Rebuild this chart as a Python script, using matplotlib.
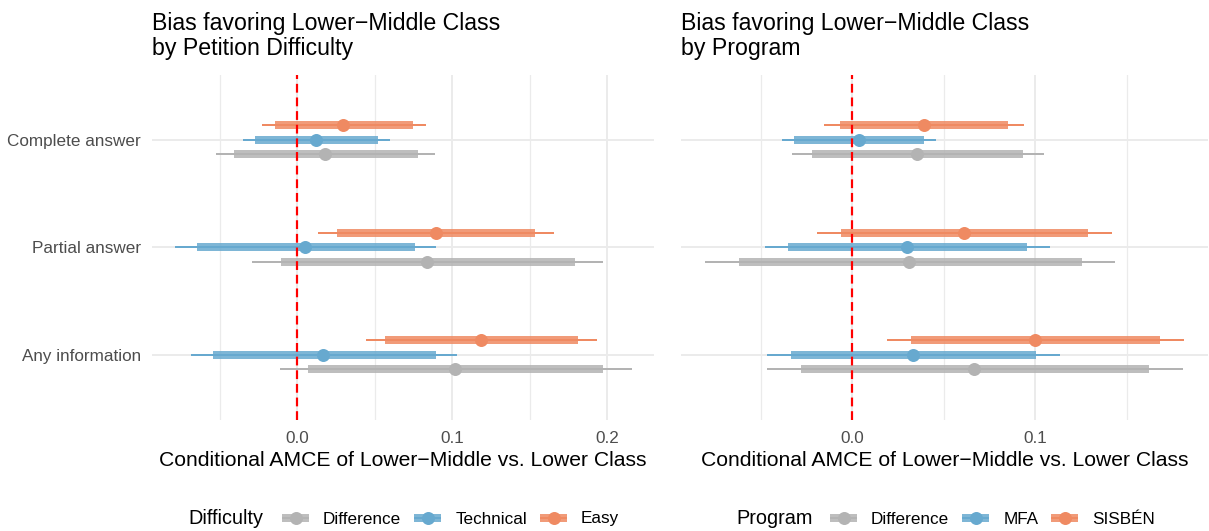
import matplotlib
matplotlib.use('Agg')
import matplotlib.pyplot as plt
from matplotlib.lines import Line2D
import numpy as np

plt.rcParams['font.family'] = ['Liberation Sans', 'DejaVu Sans']

W, H = 1209, 531
DPI = 100

rows = ['Complete answer', 'Partial answer', 'Any information']

# left panel: by petition difficulty
diff_groups = ['Difference', 'Technical', 'Easy']
diff_est = {
    'Easy': [0.0297, 0.0891, 0.1184],
    'Technical': [0.0120, 0.0049, 0.0167],
    'Difference': [0.0178, 0.0839, 0.1017],
}
diff_in_lo = {
    'Easy': [-0.0141, 0.0257, 0.0567],
    'Technical': [-0.0276, -0.0649, -0.0546],
    'Difference': [-0.0411, -0.0107, 0.0069],
}
diff_in_hi = {
    'Easy': [0.0743, 0.1533, 0.1813],
    'Technical': [0.0520, 0.0760, 0.0893],
    'Difference': [0.0775, 0.1790, 0.1970],
}
diff_out_lo = {
    'Easy': [-0.0227, 0.0131, 0.0443],
    'Technical': [-0.0353, -0.0790, -0.0687],
    'Difference': [-0.0525, -0.0291, -0.0114],
}
diff_out_hi = {
    'Easy': [0.0829, 0.1655, 0.1935],
    'Technical': [0.0597, 0.0897, 0.1032],
    'Difference': [0.0888, 0.1974, 0.2156],
}

# right panel: by program
prog_groups = ['Difference', 'MFA', 'SISBÉN']
prog_est = {
    'SISBÉN': [0.0390, 0.0610, 0.0998],
    'MFA': [0.0036, 0.0300, 0.0332],
    'Difference': [0.0354, 0.0312, 0.0666],
}
prog_in_lo = {
    'SISBÉN': [-0.0067, -0.0062, 0.0323],
    'MFA': [-0.0318, -0.0350, -0.0335],
    'Difference': [-0.0219, -0.0622, -0.0283],
}
prog_in_hi = {
    'SISBÉN': [0.0848, 0.1290, 0.1679],
    'MFA': [0.0390, 0.0955, 0.1004],
    'Difference': [0.0935, 0.1254, 0.1624],
}
prog_out_lo = {
    'SISBÉN': [-0.0154, -0.0194, 0.0191],
    'MFA': [-0.0386, -0.0477, -0.0466],
    'Difference': [-0.0330, -0.0806, -0.0468],
}
prog_out_hi = {
    'SISBÉN': [0.0936, 0.1421, 0.1813],
    'MFA': [0.0457, 0.1080, 0.1134],
    'Difference': [0.1047, 0.1436, 0.1809],
}

colors = ['#B3B3B3', '#67A9CF', '#EF8A62']
offsets = [-0.134, 0.0, 0.134]

GRID = '#EBEBEB'
TXT = '#4D4D4D'
PX = 72.0 / DPI  # points per pixel

fig = plt.figure(figsize=(W / DPI, H / DPI), dpi=DPI)


def px_axes(x0, x1, y0, y1):
    return fig.add_axes([x0 / W, 1 - y1 / H, (x1 - x0) / W, (y1 - y0) / H])


def draw_panel(ax, groups, est, in_lo, in_hi, out_lo, out_hi, major, minor, ylabels):
    ypos = np.arange(len(rows))[::-1]
    for g, col, off in zip(groups, colors, offsets):
        y = ypos + off
        ax.hlines(y, out_lo[g], out_hi[g], color=col, lw=2 * PX, zorder=3,
                  capstyle='butt')
        ax.hlines(y, in_lo[g], in_hi[g], color=col, lw=8 * PX, alpha=0.85, zorder=3,
                  capstyle='butt')
        ax.plot(est[g], y, 'o', color=col, ms=13 * PX, mew=0, zorder=4)
    ax.axvline(0, color='red', lw=2.2 * PX, ls=(0, (4, 2.2)), zorder=6)

    lo = min(min(v) for v in out_lo.values())
    hi = max(max(v) for v in out_hi.values())
    pad = (hi - lo) * 0.05
    ax.set_xlim(lo - pad, hi + pad)
    ax.set_ylim(-0.6, len(rows) - 0.4)

    ax.set_xticks(major)
    ax.set_xticklabels(['%.1f' % v for v in major])
    ax.set_xticks(minor, minor=True)
    ax.set_yticks(ypos)
    if ylabels:
        ax.set_yticklabels(rows)
    else:
        ax.set_yticklabels([])
    ax.grid(True, which='major', color=GRID, lw=2 * PX, zorder=0)
    ax.grid(True, which='minor', axis='x', color=GRID, lw=1.2 * PX, zorder=0)
    ax.set_axisbelow(True)
    ax.tick_params(which='both', length=0, labelsize=17.1 * PX, labelcolor=TXT, pad=8)
    for s in ax.spines.values():
        s.set_visible(False)


ax1 = px_axes(152, 654.5, 75, 419.5)
draw_panel(ax1, diff_groups, diff_est, diff_in_lo, diff_in_hi, diff_out_lo, diff_out_hi,
           [0.0, 0.1, 0.2], [-0.05, 0.05, 0.15], True)

ax2 = px_axes(681, 1208, 75, 419.5)
draw_panel(ax2, prog_groups, prog_est, prog_in_lo, prog_in_hi, prog_out_lo, prog_out_hi,
           [0.0, 0.1], [-0.05, 0.05, 0.15], False)

# titles
title_kw = dict(fontsize=23.1 * PX, ha='left', va='top', linespacing=1.09, color='black')
fig.text(152 / W, 1 - 12 / H, 'Bias favoring Lower\u2212Middle Class\nby Petition Difficulty', **title_kw)
fig.text(681 / W, 1 - 12 / H, 'Bias favoring Lower\u2212Middle Class\nby Program', **title_kw)

xlab = 'Conditional AMCE of Lower\u2212Middle vs. Lower Class'
fig.text(403 / W, 1 - 460 / H, xlab, fontsize=21.1 * PX, ha='center', va='center')
fig.text(944.5 / W, 1 - 460 / H, xlab, fontsize=21.1 * PX, ha='center', va='center')


def legend_handles():
    hs = []
    for col in colors:
        thin = Line2D([], [], color=col, lw=2 * PX, solid_capstyle='butt')
        thick = Line2D([], [], color=col, lw=8 * PX, alpha=0.85, solid_capstyle='butt')
        pt = Line2D([], [], color=col, marker='o', ms=13 * PX, mew=0, ls='none')
        hs.append((thin, thick, pt))
    return hs


def add_legend(title, title_x, key_x, labels):
    fig.text(title_x / W, 1 - 519 / H, title, fontsize=19.9 * PX, ha='left', va='center')
    leg = fig.legend(legend_handles(), labels, loc='center left',
                     bbox_to_anchor=(key_x / W, 1 - 519 / H), ncol=3, frameon=False,
                     fontsize=17.1 * PX, borderpad=0, borderaxespad=0,
                     handlelength=1.58, handletextpad=0.82, columnspacing=0.76)
    for t in leg.get_texts():
        t.set_color('black')
    return leg


add_legend('Difficulty', 188, 282, diff_groups)
add_legend('Program', 736, 830, prog_groups)

fig.savefig('out.png', dpi=DPI)
